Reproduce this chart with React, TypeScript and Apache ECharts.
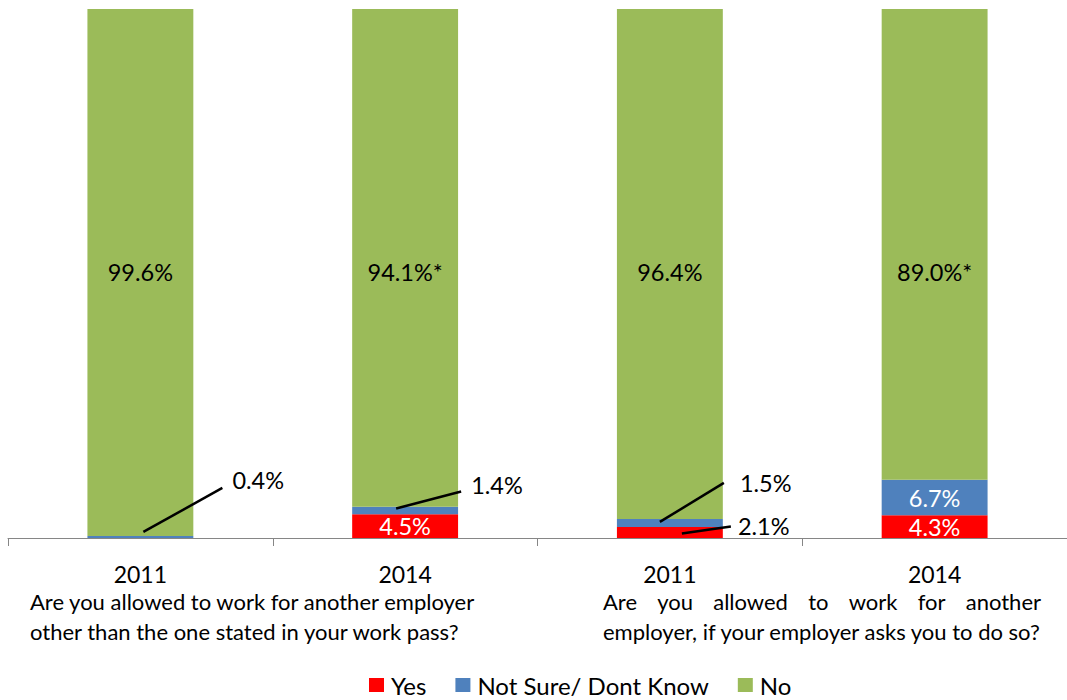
import React, { useEffect, useRef } from 'react';
import * as echarts from 'echarts';

const categories = ['2011', '2014', '2011', '2014'];
const seriesNames = ['Yes', 'Not Sure/ Dont Know', 'No'];
const yesValues = [0, 4.5, 2.1, 4.3];
const notSureValues = [0.4, 1.4, 1.5, 6.7];
const noValues = [99.6, 94.1, 96.4, 89.0];
const noMarks = ['', '*', '', '*'];
const question1Lines = [
  'Are you allowed to work for another employer',
  'other than the one stated in your work pass?',
];
const question2Lines = [
  'Are you allowed to work for another',
  'employer, if your employer asks you to do so?',
];

const COLORS = ['#FF0000', '#4F81BD', '#9BBB59'];
const FONT = 'Lato, "Open Sans", sans-serif';
const FS_Q = 22;
const FS_A = 23;
const FS_V = 23.5;
const FS_L = 24;

// callouts for small segments: series, category, offsets relative to segment centre
const callouts = [
  { s: 1, c: 0, sx: 3, sy: -5, ex: 82, ey: -49, tx: 92, ty: -57 },
  { s: 1, c: 1, sx: -9, sy: -2, ex: 56, ey: -19, tx: 66, ty: -25 },
  { s: 1, c: 2, sx: -10, sy: -1, ex: 54, ey: -40, tx: 70, ty: -40 },
  { s: 0, c: 2, sx: 12, sy: 1, ex: 61, ey: -6, tx: 68, ty: -6 },
];

const fmt = (v: number) => v.toFixed(1) + '%';

function justified(line: string, left: number, right: number, y: number) {
  const words = line.split(' ');
  const ctx = document.createElement('canvas').getContext('2d')!;
  ctx.font = `${FS_Q}px ${FONT}`;
  const widths = words.map((w) => ctx.measureText(w).width);
  const total = widths.reduce((a, b) => a + b, 0);
  const gap = words.length > 1 ? (right - left - total) / (words.length - 1) : 0;
  let x = left;
  return words.map((w, i) => {
    const el = {
      type: 'text',
      x,
      y,
      z: 10,
      style: { text: w, font: `${FS_Q}px ${FONT}`, fill: '#000', textVerticalAlign: 'middle' },
    };
    x += widths[i] + gap;
    return el;
  });
}

export default function App() {
  const ref = useRef<HTMLDivElement>(null);
  useEffect(() => {
    const chart = echarts.init(ref.current!, null, { renderer: 'svg' });
    const allValues = [yesValues, notSureValues, noValues];
    const isCallout = (s: number, c: number) => callouts.some((k) => k.s === s && k.c === c);

    const mkData = (s: number) =>
      allValues[s].map((v, c) => ({
        value: v,
        label: {
          show: v > 0 && !isCallout(s, c),
        },
      }));

    const option: any = {
      animation: false,
      textStyle: { fontFamily: FONT },
      grid: { left: 8, top: 9, width: 1064, height: 529, containLabel: false },
      legend: {
        data: seriesNames,
        left: 369,
        top: 673,
        padding: 0,
        icon: 'rect',
        itemWidth: 15,
        itemHeight: 14,
        itemGap: 29,
        textStyle: { fontSize: FS_L, color: '#000', fontFamily: FONT, padding: [0, 0, 0, 2] },
      },
      xAxis: {
        type: 'category',
        data: categories,
        axisLine: { lineStyle: { color: '#868686', width: 1 } },
        axisTick: { show: true, length: 8, lineStyle: { color: '#868686' } },
        axisLabel: { color: '#000', fontSize: FS_A, margin: 24, fontFamily: FONT },
      },
      yAxis: { type: 'value', min: 0, max: 100, show: false },
      series: [
        {
          name: seriesNames[0],
          type: 'bar',
          stack: 'total',
          barWidth: '40%',
          itemStyle: { color: COLORS[0] },
          label: { position: 'inside', color: '#fff', fontSize: FS_V, formatter: (p: any) => fmt(p.value) },
          data: mkData(0),
        },
        {
          name: seriesNames[1],
          type: 'bar',
          stack: 'total',
          itemStyle: { color: COLORS[1] },
          label: { position: 'inside', color: '#fff', fontSize: FS_V, formatter: (p: any) => fmt(p.value) },
          data: mkData(1),
        },
        {
          name: seriesNames[2],
          type: 'bar',
          stack: 'total',
          itemStyle: { color: COLORS[2] },
          label: {
            show: true,
            position: ['50%', 263],
            align: 'center',
            verticalAlign: 'middle',
            color: '#000',
            fontSize: FS_V,
            formatter: (p: any) => fmt(p.value) + noMarks[p.dataIndex],
          },
          data: mkData(2),
        },
      ],
    };
    chart.setOption(option);

    const graphics: any[] = [];
    callouts.forEach((k) => {
      let base = 0;
      for (let s = 0; s < k.s; s++) base += allValues[s][k.c];
      const v = allValues[k.s][k.c];
      const [px, py] = chart.convertToPixel({ gridIndex: 0 }, [k.c, base + v / 2]) as number[];
      graphics.push({
        type: 'line',
        z: 100,
        shape: { x1: px + k.sx, y1: py + k.sy, x2: px + k.ex, y2: py + k.ey },
        style: { stroke: '#000', lineWidth: 2.5 },
      });
      graphics.push({
        type: 'text',
        z: 100,
        x: px + k.tx,
        y: py + k.ty,
        style: { text: fmt(v), font: `${FS_V}px ${FONT}`, fill: '#000', textVerticalAlign: 'middle' },
      });
    });
    question1Lines.forEach((line, i) => {
      graphics.push({
        type: 'text',
        z: 10,
        x: 30,
        y: 601 + i * 30,
        style: { text: line, font: `${FS_Q}px ${FONT}`, fill: '#000', textVerticalAlign: 'middle' },
      });
    });
    graphics.push(...justified(question2Lines[0], 603, 1041, 601));
    graphics.push({
      type: 'text',
      z: 10,
      x: 603,
      y: 631,
      style: { text: question2Lines[1], font: `${FS_Q}px ${FONT}`, fill: '#000', textVerticalAlign: 'middle' },
    });
    chart.setOption({ graphic: graphics });

    return () => chart.dispose();
  }, []);
  return (
    <div
      ref={ref}
      style={{ position: 'absolute', left: 0, top: 0, width: 1067, height: 700, background: '#fff' }}
    />
  );
}
